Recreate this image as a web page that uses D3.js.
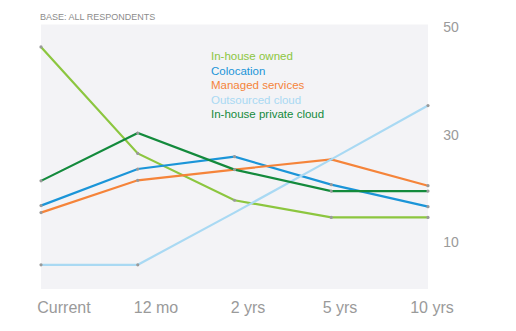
<!DOCTYPE html>
<html>
<head>
<meta charset="utf-8">
<script src="https://cdn.jsdelivr.net/npm/d3@7"></script>
<style>
  body { margin: 0; background: #fff; }
  svg text { font-family: "Liberation Sans", Arial, Helvetica, sans-serif; }
</style>
</head>
<body>
<div class="trend-chart"></div>
<script>
"use strict";

// periods along the x axis
var periods = ["Current", "12 mo", "2 yrs", "5 yrs", "10 yrs"];

// share of respondents per hosting model
var inHouseOwned = [46.3, 26.5, 17.8, 14.6, 14.6];
var colocation = [16.8, 23.6, 25.9, 20.7, 16.6];
var managedServices = [15.5, 21.5, 23.5, 25.4, 20.5];
var outsourcedCloud = [5.8, 5.8, 15.5, 25.4, 35.4];
var privateCloud = [21.4, 30.3, 23.5, 19.5, 19.5];

// which points get a marker dot
var markedOwned = [1, 1, 1, 1, 1];
var markedColocation = [1, 1, 1, 1, 1];
var markedManaged = [1, 1, 0, 1, 1];
var markedOutsourced = [1, 1, 0, 0, 1];
var markedPrivate = [1, 1, 1, 1, 1];

var seriesNames = ["In-house owned", "Colocation", "Managed services", "Outsourced cloud", "In-house private cloud"];
var seriesColors = ["#8cc63f", "#1b95d8", "#f5843a", "#a9d9f3", "#138a3c"];
var yTicks = [10, 30, 50];

var allValues = [inHouseOwned, colocation, managedServices, outsourcedCloud, privateCloud];
var allMarks = [markedOwned, markedColocation, markedManaged, markedOutsourced, markedPrivate];

var series = allValues.map(function(values, i){
  return { name: seriesNames[i], color: seriesColors[i], values: values, marks: allMarks[i] };
});

var width = 516, height = 331;

var svg = d3.select(".trend-chart").append("svg")
  .attr("width", width)
  .attr("height", height);

var x = d3.scalePoint().domain(periods).range([41, 428]);
var y = d3.scaleLinear().domain([0, 50]).range([296, 27]);
// period labels sit on their own slightly shifted grid
var xLabel = d3.scalePoint().domain(periods).range([64, 432]);

// plot background
svg.append("rect")
  .attr("x", 41)
  .attr("y", 24.5)
  .attr("width", 387)
  .attr("height", 264.5)
  .style("fill", "#f3f3f6");

svg.append("text")
  .text("BASE: ALL RESPONDENTS")
  .attr("x", 40)
  .attr("y", 20)
  .style("font-size", "9px")
  .style("fill", "#8c8c8c");

// y ticks on the right
svg.selectAll(".yTick")
  .data(yTicks).enter()
  .append("text").attr("class", "yTick")
  .text(function(d){ return d; })
  .attr("x", 451)
  .attr("y", function(d){ return y(d); })
  .attr("dy", "0.35em")
  .style("text-anchor", "middle")
  .style("font-size", "14px")
  .style("fill", "#9a9a9a");

// x labels
svg.selectAll(".xTick")
  .data(periods).enter()
  .append("text").attr("class", "xTick")
  .text(function(d){ return d; })
  .attr("x", function(d){ return xLabel(d); })
  .attr("y", 313)
  .style("text-anchor", "middle")
  .style("font-size", "16px")
  .style("fill", "#9a9a9a");

var line = d3.line()
  .x(function(d, i){ return x(periods[i]); })
  .y(function(d){ return y(d); });

var lines = svg.selectAll(".series")
  .data(series).enter()
  .append("g").attr("class", "series");

lines.append("path")
  .attr("d", function(d){ return line(d.values); })
  .style("fill", "none")
  .style("stroke", function(d){ return d.color; })
  .style("stroke-width", 2.2);

lines.selectAll(".dot")
  .data(function(d){
    return d.values.map(function(v, i){ return { v: v, i: i, on: d.marks[i] }; })
      .filter(function(p){ return p.on; });
  }).enter()
  .append("circle").attr("class", "dot")
  .attr("cx", function(p){ return x(periods[p.i]); })
  .attr("cy", function(p){ return y(p.v); })
  .attr("r", 1.6)
  .style("fill", "#9a9a9a");

// legend
svg.selectAll(".legend")
  .data(series).enter()
  .append("text").attr("class", "legend")
  .text(function(d){ return d.name; })
  .attr("x", 211)
  .attr("y", function(d, i){ return 56 + i*14.6; })
  .attr("dy", "0.35em")
  .style("font-size", "11.5px")
  .style("fill", function(d){ return d.color; });
</script>
</body>
</html>
